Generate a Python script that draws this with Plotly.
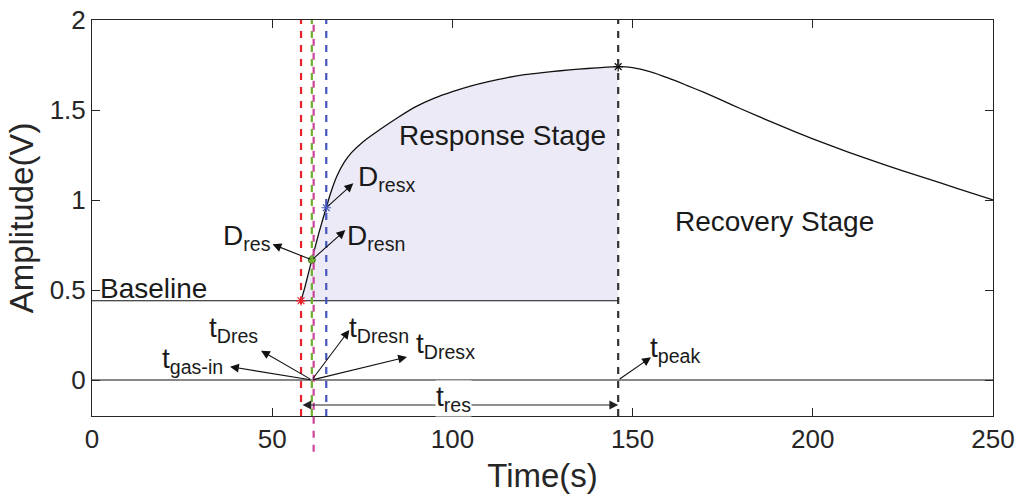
import plotly.graph_objects as go

# Sensor response curve (time in s, amplitude in V)
t_curve = [58, 59, 60, 61, 62, 63, 64, 65, 66, 67, 68, 70, 72, 75, 80, 85, 90, 95,
           100, 105, 110, 115, 120, 125, 130, 135, 140, 146,
           150, 155, 160, 165, 170, 175, 180, 190, 200, 210, 220, 230, 240, 250]
v_curve = [0.44, 0.51, 0.59, 0.667, 0.745, 0.82, 0.89, 0.957, 1.025, 1.085, 1.135, 1.21,
           1.263, 1.32, 1.393, 1.46, 1.52, 1.566, 1.602, 1.633, 1.658, 1.679, 1.696,
           1.708, 1.718, 1.727, 1.734, 1.741,
           1.736, 1.712, 1.677, 1.637, 1.596, 1.552, 1.507, 1.421, 1.34, 1.265,
           1.195, 1.13, 1.065, 1.0]

baseline_v = 0.44
t_start, t_end = 0, 250

# Characteristic instants
t_gas_in = 58
t_dres = 61
t_dres_mark = 61.5
t_dresx = 65
t_peak = 146

# Characteristic points on the curve
pt_gas_in = (58, 0.44)
pt_dres = (61, 0.667)
pt_dresx = (65, 0.957)
pt_peak = (146, 1.741)

t_res_y = -0.139

x_ticks = [0, 50, 100, 150, 200, 250]
y_ticks = [0, 0.5, 1, 1.5, 2]

FONT = "Liberation Sans, Arial, Helvetica, sans-serif"
TXT = "#1a1a1a"
AX = "#262626"
SMOOTH = dict(shape="spline", smoothing=0.6)

fig = go.Figure()

# shaded response region between baseline and curve
resp_t = [t for t in t_curve if t <= t_peak]
resp_v = v_curve[:len(resp_t)]
fig.add_trace(go.Scatter(x=resp_t, y=[baseline_v] * len(resp_t), mode="lines",
                         line=dict(width=0), hoverinfo="skip"))
fig.add_trace(go.Scatter(x=resp_t, y=resp_v, mode="lines", fill="tonexty",
                         fillcolor="rgb(236,234,246)",
                         line=dict(width=0, **SMOOTH), hoverinfo="skip"))

# baseline and zero reference lines
fig.add_trace(go.Scatter(x=[t_start, t_peak], y=[baseline_v, baseline_v],
                         mode="lines", line=dict(color="#111", width=1.1)))
fig.add_trace(go.Scatter(x=[t_start, t_end], y=[0, 0],
                         mode="lines", line=dict(color="#111", width=1.1)))

# response curve
fig.add_trace(go.Scatter(x=t_curve, y=v_curve, mode="lines",
                         line=dict(color="#111", width=1.3, **SMOOTH)))

# vertical event lines
def vline(x, color, y0=-0.2, y1=2, yref="y"):
    fig.add_shape(type="line", xref="x", yref=yref, x0=x, x1=x, y0=y0, y1=y1,
                  line=dict(color=color, width=2.2, dash="7px,7px"))

vline(t_gas_in, "#e8202a")
vline(t_dres, "#6fae2e")
vline(t_dres_mark, "#cc4499", y0=-0.09, y1=1, yref="paper")
vline(t_dresx, "#4455bb")
vline(t_peak, "#333333")

# point markers
def star(p, color):
    fig.add_trace(go.Scatter(x=[p[0]], y=[p[1]], mode="markers",
                             marker=dict(symbol="asterisk-open", size=8,
                                         color=color,
                                         line=dict(color=color, width=1.2))))

star(pt_gas_in, "#e8202a")
star(pt_dresx, "#4455bb")
star(pt_peak, "#111111")
fig.add_trace(go.Scatter(x=[pt_dres[0]], y=[pt_dres[1]], mode="markers",
                         marker=dict(symbol="circle", size=7, color="#7dbb3a",
                                     line=dict(color="#3f6e1a", width=1))))

# arrows: (tail point, head point)
arrows = [
    (pt_dres, (50.1, 0.754)),
    (pt_dres, (70.3, 0.833)),
    (pt_dresx, (72.5, 1.093)),
    ((t_dres, 0), (38.3, 0.074)),
    ((t_dres, 0), (46.9, 0.163)),
    ((t_dres, 0), (71.4, 0.278)),
    ((t_dres, 0), (87.4, 0.128)),
    ((t_peak, 0), (155.1, 0.126)),
]
for tail, head in arrows:
    fig.add_annotation(x=head[0], y=head[1], ax=tail[0], ay=tail[1],
                       xref="x", yref="y", axref="x", ayref="y", text="",
                       showarrow=True, arrowhead=2, arrowsize=1.6,
                       arrowwidth=1.1, arrowcolor="#111", standoff=0,
                       startstandoff=0)

# double arrow for response time
fig.add_annotation(x=t_peak, y=t_res_y, ax=t_gas_in, ay=t_res_y,
                   xref="x", yref="y", axref="x", ayref="y", text="",
                   showarrow=True, arrowhead=2, startarrowhead=2,
                   arrowside="end+start", arrowsize=1.6, startarrowsize=1.6,
                   arrowwidth=1.1, arrowcolor="#222", standoff=0,
                   startstandoff=0)

labels = [
    (43.0, 0.79, "D<sub>res</sub>"),
    (78.8, 0.79, "D<sub>resn</sub>"),
    (81.8, 1.12, "D<sub>resx</sub>"),
    (28.0, 0.11, "t<sub>gas-in</sub>"),
    (39.2, 0.28, "t<sub>Dres</sub>"),
    (79.6, 0.28, "t<sub>Dresn</sub>"),
    (98.2, 0.19, "t<sub>Dresx</sub>"),
    (161.9, 0.167, "t<sub>peak</sub>"),
    (113.9, 1.361, "Response Stage"),
    (189.5, 0.883, "Recovery Stage"),
    (17.2, 0.51, "Baseline"),
]
for x, y, s in labels:
    fig.add_annotation(x=x, y=y, xref="x", yref="y", text=s, showarrow=False,
                       font=dict(family=FONT, size=28, color=TXT))

fig.add_annotation(x=100.2, y=-0.1, xref="x", yref="y",
                   text="t<sub>res</sub>", showarrow=False, bgcolor="white",
                   borderpad=0, font=dict(family=FONT, size=28, color=TXT))

fig.update_layout(
    width=1017, height=499,
    margin=dict(l=92, r=24, t=20, b=83, autoexpand=False),
    paper_bgcolor="white", plot_bgcolor="white",
    showlegend=False,
    font=dict(family=FONT, color=AX),
    xaxis=dict(range=[t_start, t_end], tickvals=x_ticks, ticks="inside",
               ticklen=8, tickwidth=1, tickcolor=AX, showline=True,
               linecolor=AX, linewidth=1, mirror="ticks", showgrid=False,
               zeroline=False, automargin=False,
               tickfont=dict(size=26, color=AX),
               title=dict(text="Time(s)", font=dict(size=33, color=AX),
                          standoff=10)),
    yaxis=dict(range=[-0.2, 2], tickvals=y_ticks,
               ticktext=["0", "0.5", "1", "1.5", "2"], ticks="inside",
               ticklen=8, tickwidth=1, tickcolor=AX, showline=True,
               linecolor=AX, linewidth=1, mirror="ticks", showgrid=False,
               zeroline=False, automargin=False,
               tickfont=dict(size=26, color=AX),
               title=dict(text="Amplitude(V)", font=dict(size=33, color=AX),
                          standoff=6)),
)

fig.write_html("out.html")
